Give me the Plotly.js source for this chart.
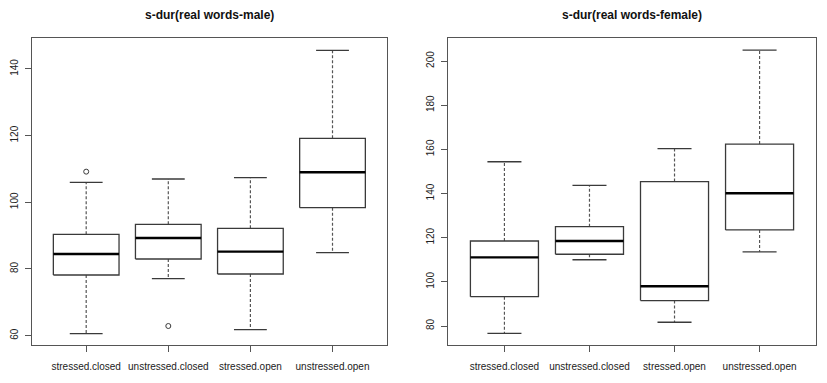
<!DOCTYPE html>
<html>
<head>
<meta charset="utf-8">
<script src="https://cdn.plot.ly/plotly-3.0.1.min.js"></script>
<style>html,body{margin:0;padding:0;background:#fff;}#chart{width:827px;height:383px;}</style>
</head>
<body>
<div id="chart"></div>
<script>
const categories = ["stressed.closed", "unstressed.closed", "stressed.open", "unstressed.open"];

// Panel 1: s-dur(real words-male)
const maleLow    = [60.6, 77.1, 61.8, 84.9];
const maleQ1     = [78.2, 83.0, 78.5, 98.4];
const maleMedian = [84.5, 89.3, 85.2, 109.0];
const maleQ3     = [90.4, 93.4, 92.2, 119.2];
const maleHigh   = [106.0, 107.0, 107.4, 145.6];
const maleOutlierCat = [1, 2];
const maleOutlierVal = [109.2, 62.9];

// Panel 2: s-dur(real words-female)
const femaleLow    = [76.7, 110.0, 81.7, 113.6];
const femaleQ1     = [93.3, 112.5, 91.5, 123.5];
const femaleMedian = [111.1, 118.5, 98.0, 140.1];
const femaleQ3     = [118.5, 125.0, 145.4, 162.4];
const femaleHigh   = [154.4, 143.7, 160.3, 204.9];
const femaleOutlierCat = [];
const femaleOutlierVal = [];

const maleTicks = [60, 80, 100, 120, 140];
const femaleTicks = [80, 100, 120, 140, 160, 180, 200];

const titles = ["s-dur(real words-male)", "s-dur(real words-female)"];

const BOX_HALF = 0.4, CAP_HALF = 0.2;
const LINE = "#3a3a3a";

function boxTraces(low, q1, med, q3, high, outCat, outVal, xa, ya) {
  const bx = [], by = [], mx = [], my = [], wx = [], wy = [], cx = [], cy = [];
  for (let k = 0; k < low.length; k++) {
    const c = k + 1;
    bx.push(c - BOX_HALF, c + BOX_HALF, c + BOX_HALF, c - BOX_HALF, c - BOX_HALF, null);
    by.push(q1[k], q1[k], q3[k], q3[k], q1[k], null);
    mx.push(c - BOX_HALF, c + BOX_HALF, null);
    my.push(med[k], med[k], null);
    wx.push(c, c, null, c, c, null);
    wy.push(q3[k], high[k], null, q1[k], low[k], null);
    cx.push(c - CAP_HALF, c + CAP_HALF, null, c - CAP_HALF, c + CAP_HALF, null);
    cy.push(high[k], high[k], null, low[k], low[k], null);
  }
  const common = {type: "scatter", mode: "lines", xaxis: xa, yaxis: ya, hoverinfo: "skip", showlegend: false};
  return [
    Object.assign({}, common, {x: wx, y: wy, line: {color: "#555", width: 1.2, dash: "3px,2px"}}),
    Object.assign({}, common, {x: cx, y: cy, line: {color: LINE, width: 1.3}}),
    Object.assign({}, common, {x: bx, y: by, line: {color: LINE, width: 1.3}}),
    Object.assign({}, common, {x: mx, y: my, line: {color: "#000", width: 2.4}}),
    {type: "scatter", mode: "markers", x: outCat, y: outVal, xaxis: xa, yaxis: ya, showlegend: false, hoverinfo: "skip",
     marker: {symbol: "circle-open", size: 5, color: LINE, line: {width: 1, color: LINE}}}
  ];
}

const data = [].concat(
  boxTraces(maleLow, maleQ1, maleMedian, maleQ3, maleHigh, maleOutlierCat, maleOutlierVal, "x", "y"),
  boxTraces(femaleLow, femaleQ1, femaleMedian, femaleQ3, femaleHigh, femaleOutlierCat, femaleOutlierVal, "x2", "y2")
);

const W = 827, H = 383;
const font = {family: "Liberation Sans, Arial, sans-serif", size: 10, color: "#222"};

function xaxis(domain) {
  return {
    domain: domain, range: [0.34, 4.66], tickmode: "array",
    tickvals: categories.map((_, i) => i + 1), ticktext: categories,
    ticks: "outside", ticklen: 6, tickcolor: "#555", tickwidth: 1,
    showline: true, mirror: true, linecolor: "#555", linewidth: 1.2,
    showgrid: false, zeroline: false, fixedrange: true, ticklabelstandoff: 6,
    tickfont: font
  };
}
function yaxis(range, ticks, anchor) {
  return {
    domain: [(H - 345) / H, (H - 38.3) / H], range: range, anchor: anchor,
    tickmode: "array", tickvals: ticks, ticktext: ticks.map(String), tickangle: -90,
    ticks: "outside", ticklen: 6, tickcolor: "#555", tickwidth: 1,
    showline: true, mirror: true, linecolor: "#555", linewidth: 1.2,
    showgrid: false, zeroline: false, fixedrange: true, ticklabelstandoff: 3,
    tickfont: font
  };
}

const layout = {
  width: W, height: H,
  margin: {l: 0, r: 0, t: 0, b: 0},
  paper_bgcolor: "#fff", plot_bgcolor: "#fff",
  showlegend: false,
  font: font,
  xaxis: Object.assign(xaxis([32 / W, 386.7 / W]), {anchor: "y"}),
  yaxis: yaxis([57.2, 149.2], maleTicks, "x"),
  xaxis2: Object.assign(xaxis([448.3 / W, 815.7 / W]), {anchor: "y2"}),
  yaxis2: yaxis([71.4, 210.3], femaleTicks, "x2"),
  annotations: [
    {text: "<b>" + titles[0] + "</b>", xref: "x domain", yref: "paper", x: 0.5, y: (H - 15) / H,
     xanchor: "center", yanchor: "middle", showarrow: false,
     font: {family: "Liberation Sans, Arial, sans-serif", size: 12, color: "#111"}},
    {text: "<b>" + titles[1] + "</b>", xref: "x2 domain", yref: "paper", x: 0.5, y: (H - 15) / H,
     xanchor: "center", yanchor: "middle", showarrow: false,
     font: {family: "Liberation Sans, Arial, sans-serif", size: 12, color: "#111"}}
  ]
};

Plotly.newPlot("chart", data, layout, {displayModeBar: false, staticPlot: true});
</script>
</body>
</html>
